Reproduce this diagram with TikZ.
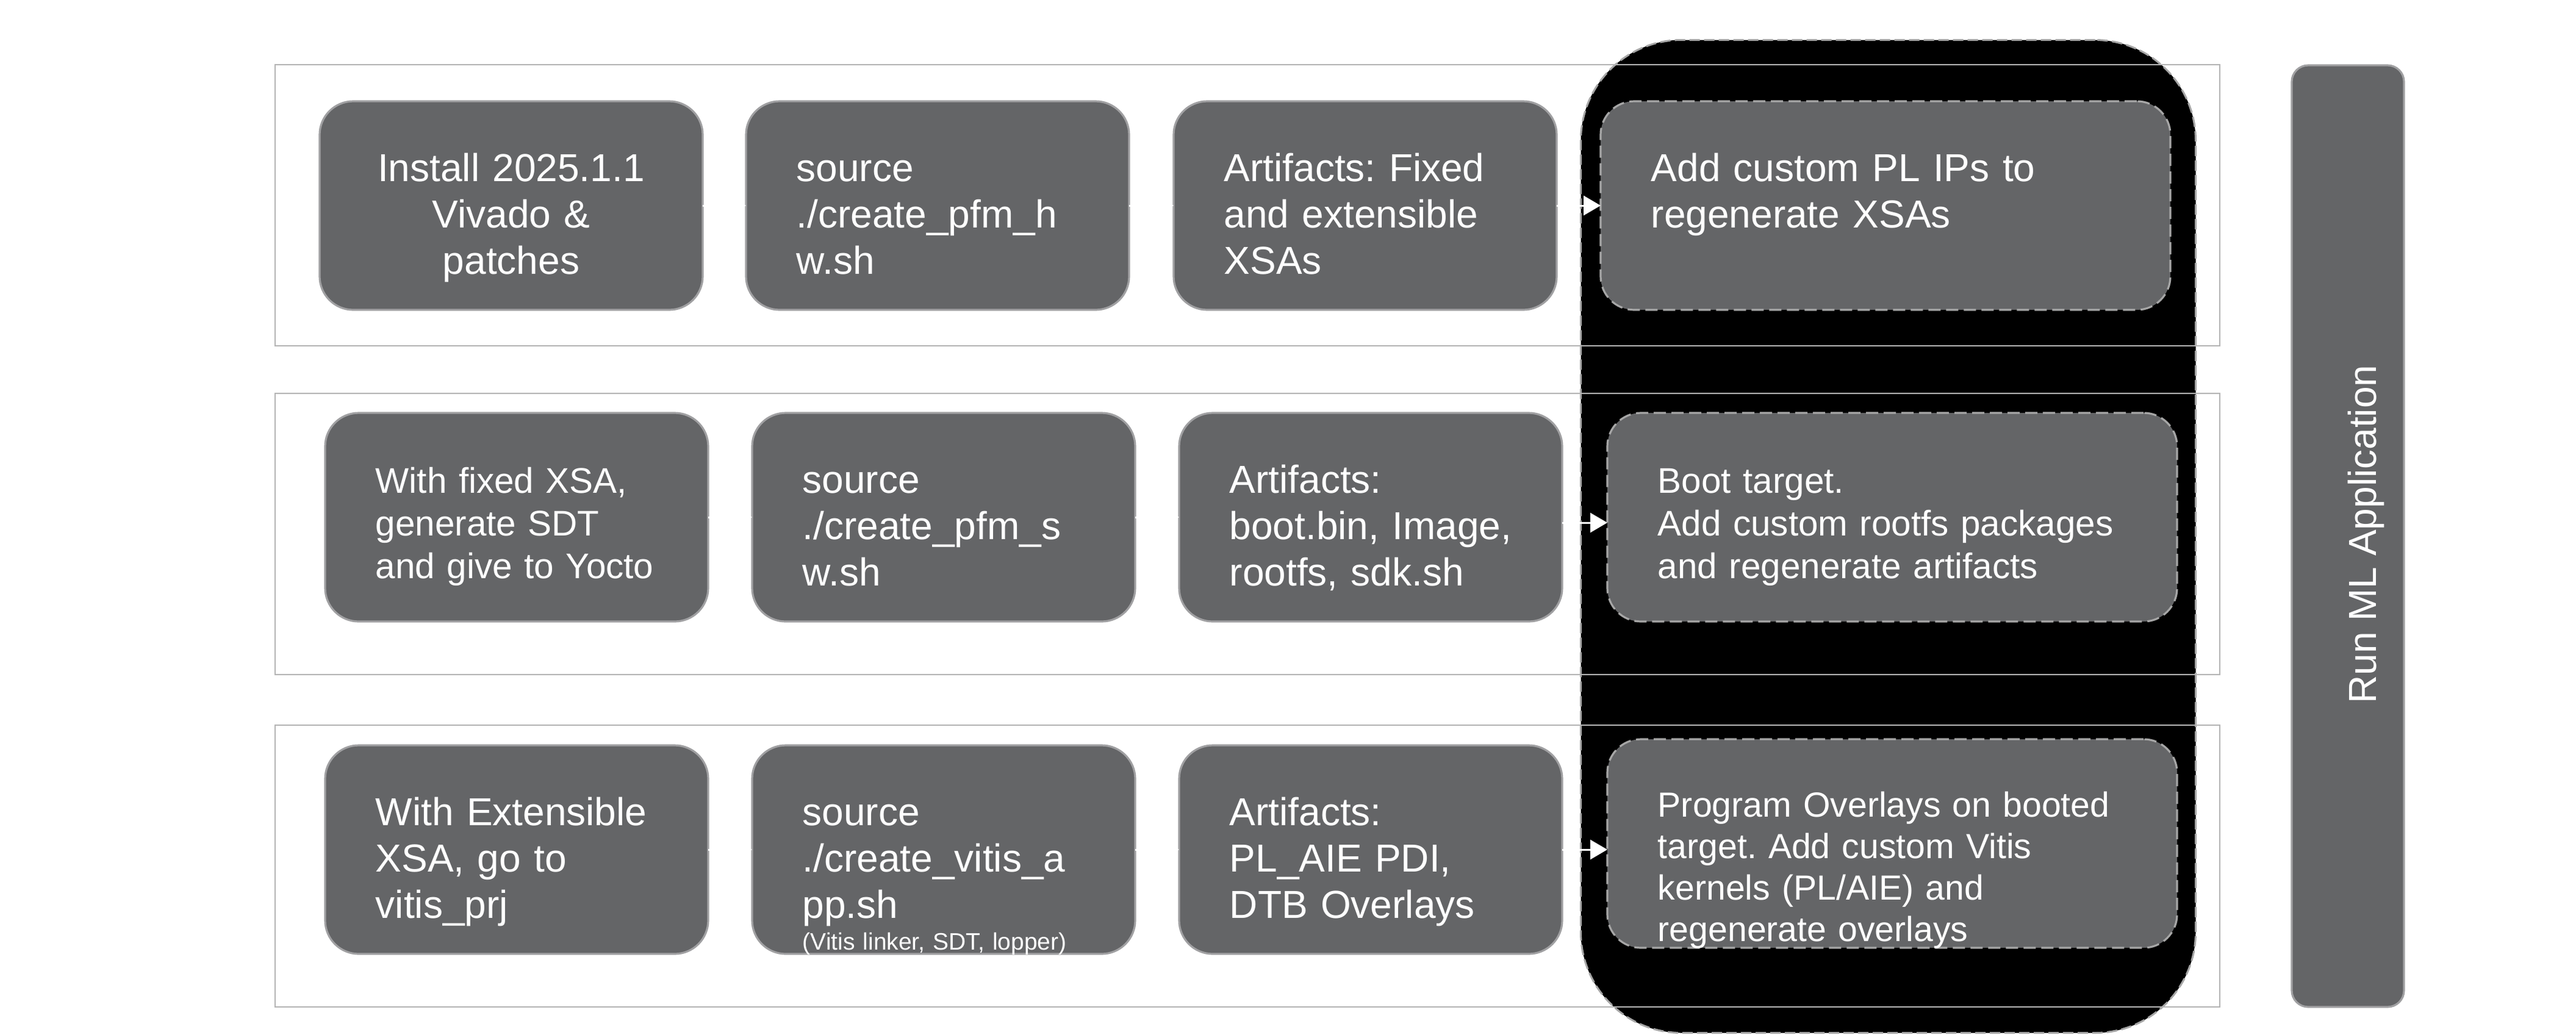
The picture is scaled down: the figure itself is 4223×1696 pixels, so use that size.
\documentclass[tikz,border=0pt]{standalone}
\usepackage{fontspec}
\setmainfont{Liberation Sans}
\usetikzlibrary{arrows.meta}
\frenchspacing
\definecolor{boxfill}{HTML}{646567}
\definecolor{boxborder}{HTML}{A0A0A2}
\definecolor{dashgray}{HTML}{A6A6A6}
\definecolor{panelgray}{HTML}{B4B4B4}
\begin{document}
\begin{tikzpicture}[x=0.25pt,y=-0.25pt,
  panel/.style={draw=panelgray,line width=0.5pt,anchor=north west,inner sep=0pt,outer sep=0pt,minimum width=797pt,minimum height=115.25pt},
  stepbox/.style={draw=boxborder,fill=boxfill,line width=0.8pt,rounded corners=13.75pt,anchor=north west,inner sep=0pt,outer sep=0pt,minimum width=157pt,minimum height=85.5pt},
  dashbox/.style={stepbox,draw=dashgray,dash pattern=on 5pt off 2.25pt,minimum width=233.5pt},
  txt/.style={text=white,inner sep=0pt,anchor=base west,align=left,text width=230pt,font=\fontsize{16}{19.1}\selectfont\frenchspacing},
  txtsm/.style={txt,font=\fontsize{14.6}{17.5}\selectfont\frenchspacing},
  flow/.style={draw=white,line width=0.75pt,-{Triangle[length=7pt,width=8pt]}}
]
\fill[white] (0,0) rectangle (4223,1696);
\useasboundingbox (0,0) rectangle (4223,1696);

% black stage behind the right column
\node[draw=dashgray,fill=black,line width=0.75pt,dash pattern=on 4.25pt off 1.75pt,rounded corners=41.25pt,anchor=north west,inner sep=0pt,minimum width=252pt,minimum height=407pt] (stage) at (2590,64) {};

% row panels
\node[panel] (p1) at (451,106) {};
\node[panel] (p2) at (451,645) {};
\node[panel,minimum height=115.5pt] (p3) at (451,1189) {};

% row 1
\node[stepbox] (r1b1) at (524,166) {};
\node[stepbox] (r1b2) at (1223,166) {};
\node[stepbox] (r1b3) at (1924,166) {};
\node[dashbox] (r1b4) at (2624,166) {};
% row 2
\node[stepbox] (r2b1) at (533,677) {};
\node[stepbox] (r2b2) at (1233,677) {};
\node[stepbox] (r2b3) at (1933,677) {};
\node[dashbox] (r2b4) at (2635,677) {};
% row 3
\node[stepbox] (r3b1) at (533,1222) {};
\node[stepbox] (r3b2) at (1233,1222) {};
\node[stepbox] (r3b3) at (1933,1222) {};
\node[dashbox] (r3b4) at (2635,1212) {};

% run bar
\node[stepbox,rounded corners=6.75pt,minimum width=46pt,minimum height=386pt] (run) at (3757,107) {};
\node[text=white,rotate=90,anchor=base,inner sep=0pt,font=\fontsize{16}{19.1}\selectfont] (runlbl) at (3895,876) {Run ML Application};

% texts row 1
\node[txt,align=center,anchor=base,text width=157pt] (t11) at ([yshift=-32.75pt]r1b1.north) {Install 2025.1.1\\Vivado \&\\patches};
\node[txt] (t12) at ([xshift=20.5pt,yshift=-32.75pt]r1b2.north west) {source\\./create\_pfm\_h\\w.sh};
\node[txt] (t13) at ([xshift=20.5pt,yshift=-32.75pt]r1b3.north west) {Artifacts: Fixed\\and extensible\\XSAs};
\node[txt] (t14) at ([xshift=20.5pt,yshift=-32.75pt]r1b4.north west) {Add custom PL IPs to\\regenerate XSAs};
% texts row 2
\node[txtsm] (t21) at ([xshift=20.5pt,yshift=-32.75pt]r2b1.north west) {With fixed XSA,\\generate SDT\\and give to Yocto};
\node[txt] (t22) at ([xshift=20.5pt,yshift=-32.75pt]r2b2.north west) {source\\./create\_pfm\_s\\w.sh};
\node[txt] (t23) at ([xshift=20.5pt,yshift=-32.75pt]r2b3.north west) {Artifacts:\\boot.bin, Image,\\rootfs, sdk.sh};
\node[txtsm] (t24) at ([xshift=20.5pt,yshift=-32.75pt]r2b4.north west) {Boot target.\\Add custom rootfs packages\\and regenerate artifacts};
% texts row 3
\node[txt] (t31) at ([xshift=20.5pt,yshift=-32.75pt]r3b1.north west) {With Extensible\\XSA, go to\\vitis\_prj};
\node[txt] (t32) at ([xshift=20.5pt,yshift=-32.75pt]r3b2.north west) {source\\./create\_vitis\_a\\pp.sh};
\node[txt,font=\fontsize{9.75}{12}\selectfont\frenchspacing] (t32s) at ([xshift=20.5pt,yshift=-83.75pt]r3b2.north west) {(Vitis linker, SDT, lopper)};
\node[txt] (t33) at ([xshift=20.5pt,yshift=-32.75pt]r3b3.north west) {Artifacts:\\PL\_AIE PDI,\\DTB Overlays};
\node[txt,font=\fontsize{14.3}{17}\selectfont\frenchspacing] (t34) at ([xshift=20.5pt,yshift=-31.75pt]r3b4.north west) {Program Overlays on booted\\target. Add custom Vitis\\kernels (PL/AIE) and\\regenerate overlays};

% connectors
\draw[flow] (r1b1.east) -- (r1b2.west);
\draw[flow] (r1b2.east) -- (r1b3.west);
\draw[flow] (r1b3.east) -- (r1b4.west);
\draw[flow] (r2b1.east) -- (r2b2.west);
\draw[flow] (r2b2.east) -- (r2b3.west);
\draw[flow] ([yshift=-2.25pt]r2b3.east) -- ([yshift=-2.25pt]r2b4.west);
\draw[flow] (r3b1.east) -- (r3b2.west);
\draw[flow] (r3b2.east) -- (r3b3.west);
\draw[flow] (r3b3.east) -- (r3b3.east -| r3b4.west);
\end{tikzpicture}
\end{document}
